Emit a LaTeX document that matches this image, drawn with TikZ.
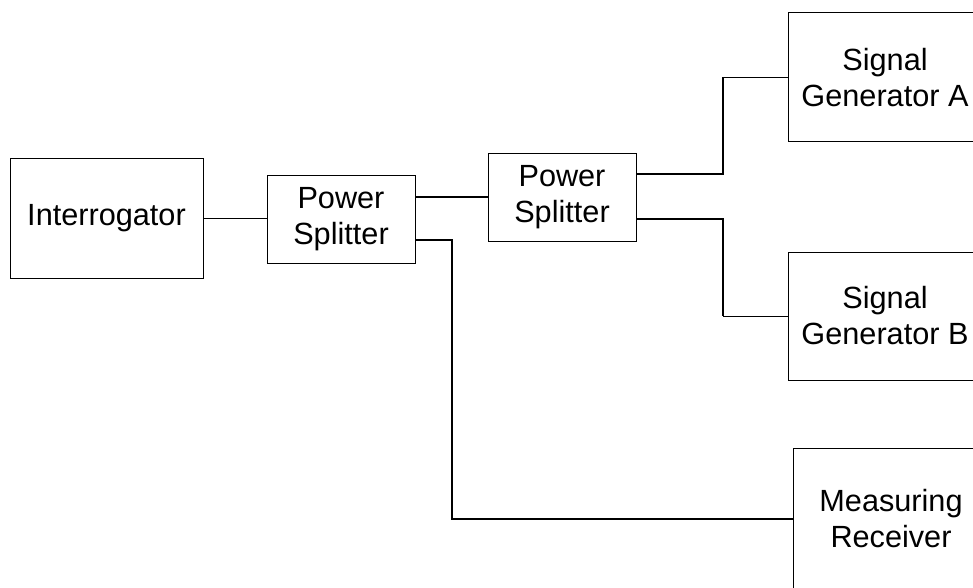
\documentclass[tikz,border=0pt]{standalone}
\usepackage{fontspec}
\setmainfont{Liberation Sans}
\begin{document}
\begin{tikzpicture}[x=0.75pt,y=-0.75pt,
  blockbox/.style={draw=black,line width=0.75pt,inner sep=0pt,align=center,
    font=\fontsize{23pt}{27pt}\selectfont},
  thinline/.style={draw=black,line width=0.75pt},
  thickline/.style={draw=black,line width=1.5pt}]
\path[use as bounding box,clip] (0,0) rectangle (973,588);
\node[blockbox,minimum width=144.75pt,minimum height=90pt] (interr) at (106.5,218.5) {Interrogator};
\node[blockbox,minimum width=111pt,minimum height=66pt] (ps1) at (341,219) {Power\\Splitter};
\node[blockbox,minimum width=111pt,minimum height=66pt] (ps2) at (562,197) {Power\\Splitter};
\node[blockbox,minimum width=145.5pt,minimum height=96.75pt] (sga) at (885,77.5) {Signal\\Generator A};
\node[blockbox,minimum width=145.5pt,minimum height=96pt] (sgb) at (885,316) {Signal\\Generator B};
\node[blockbox,minimum width=147pt,minimum height=106.5pt] (mr) at (891,519) {Measuring\\Receiver};
\coordinate (k1) at (452,519);
\coordinate (k2) at (723,77.5);
\coordinate (k3) at (723,316);
\draw[thinline] (interr.east) -- (interr.east -| ps1.west);
\draw[thickline] (ps1.east |- ps2.west) -- (ps2.west);
\draw[thickline] ([yshift=-15.75pt]ps1.east) -| (k1) -- (mr.west);
\draw[thickline] ([yshift=17.25pt]ps2.east) -| (k2);
\draw[thinline] (k2) -- (sga.west);
\draw[thickline] ([yshift=-16.5pt]ps2.east) -| (k3);
\draw[thinline] (k3) -- (sgb.west);
\end{tikzpicture}
\end{document}
